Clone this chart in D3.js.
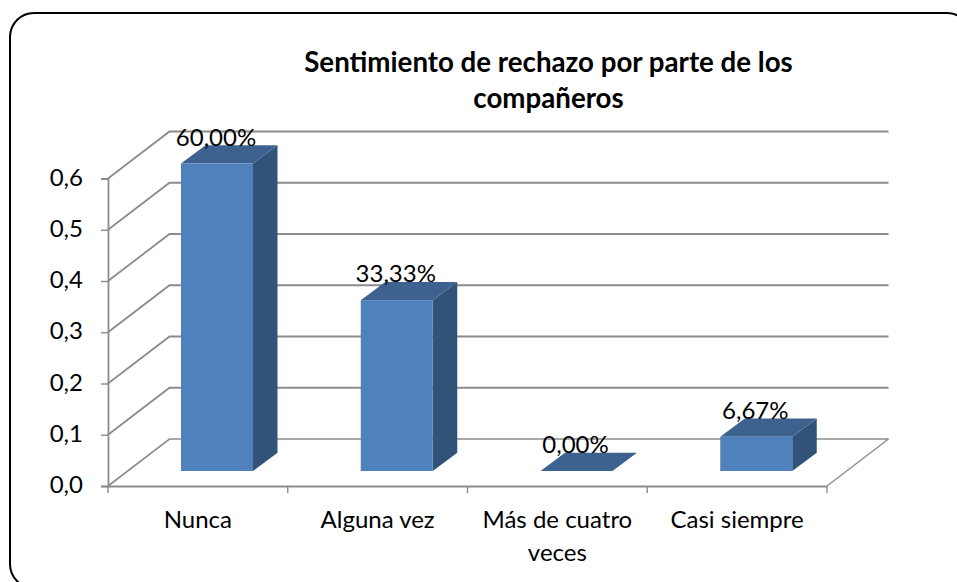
<!DOCTYPE html>
<html><head><meta charset="utf-8">
<script src="https://cdn.jsdelivr.net/npm/d3@7"></script>
<style>html,body{margin:0;padding:0;background:#fff;overflow:hidden}svg{display:block}text{font-family:Lato,"Open Sans",sans-serif;fill:#000}</style>
</head><body><svg id="c" width="957" height="582"></svg>
<script>
const categories = ["Nunca","Alguna vez","Más de cuatro veces","Casi siempre"];
const categoryLines = [["Nunca"],["Alguna vez"],["Más de cuatro","veces"],["Casi siempre"]];
const values = [0.6,0.3333,0,0.0667];
const valueLabels = ["60,00%","33,33%","0,00%","6,67%"];
const yTicks = [0,0.1,0.2,0.3,0.4,0.5,0.6];
const titleLines = ["Sentimiento de rechazo por parte de los","compañeros"];

const svg = d3.select("#c");
const x = d3.scaleBand().domain(categories).range([108,827]);
const y = d3.scaleLinear().domain([0,0.6]).range([486,178.5]);
const wallDx=61.5, wallDy=-47, front={dx:0,dy:-15}, depth={dx:24.5,dy:-18.3};
const barW=72, barOff=73;
const grid="#8c8c8c";

svg.append("rect").attr("x",10).attr("y",13).attr("width",961).attr("height",575).attr("rx",24).attr("fill","#fff").attr("stroke","#000").attr("stroke-width",2);

const g=svg.append("g");
yTicks.forEach(t=>{
  const yy=y(t);
  g.append("path").attr("d",`M${x.range()[0]},${yy}L${x.range()[0]+wallDx},${yy+wallDy}H${x.range()[1]+wallDx}`).attr("fill","none").attr("stroke",grid).attr("stroke-width",t===0?1.6:1.8);
});
g.append("path").attr("d",`M827,${y(0)}L${827+wallDx},${y(0)+wallDy}`).attr("fill","none").attr("stroke",grid).attr("stroke-width",1.4);

const axL=d3.axisLeft(y).tickValues(yTicks).tickSize(7).tickFormat(d=>d3.format(".1f")(d).replace(".",","));
const gL=svg.append("g").attr("transform","translate(108,0)").call(axL);
const axB=d3.axisBottom(x).tickValues([]).tickSize(0);
const gB=svg.append("g").attr("transform",`translate(0,${y(0)})`).call(axB);
[...categories.map(c=>x(c)),827].forEach(v=>gB.append("line").attr("x1",v).attr("x2",v).attr("y1",0).attr("y2",7).attr("stroke",grid).attr("stroke-width",1.4));
[gL,gB].forEach(a=>{a.selectAll(".domain").attr("stroke",grid).attr("stroke-width",1.8);});
gL.selectAll(".tick line").attr("stroke",grid).attr("stroke-width",1.4);
gL.selectAll(".tick text").attr("font-size",24).attr("x",-25).attr("y",-1).attr("fill","#000").style("font-family","Lato");

const bars=svg.append("g").selectAll("g").data(categories).join("g");
const fy0=y(0)+front.dy;
const h=d=>y(0)-y(d);
bars.each(function(c,i){
  const s=d3.select(this), x0=x(c)+barOff, v=values[i], top=fy0-h(v);
  if(v>0) s.append("path").attr("d",`M${x0+barW},${top}l${depth.dx},${depth.dy}V${fy0+depth.dy}L${x0+barW},${fy0}Z`).attr("fill","#325379");
  s.append("path").attr("d",`M${x0},${top}l${depth.dx},${depth.dy}h${barW}l${-depth.dx},${-depth.dy}Z`).attr("fill","#3e6290");
  if(v>0) s.append("rect").attr("x",x0).attr("y",top).attr("width",barW).attr("height",fy0-top).attr("fill","#4f81bd");
  s.append("text").attr("x",x0+barW/2-1).attr("y",top-18).attr("text-anchor","middle").attr("font-size",24).text(valueLabels[i]);
});

categories.forEach((c,i)=>{
  categoryLines[i].forEach((l,j)=>{
    svg.append("text").attr("x",x(c)+x.bandwidth()/2).attr("y",528+j*33).attr("text-anchor","middle").attr("font-size",24).text(l);
  });
});
titleLines.forEach((l,j)=>{
  svg.append("text").attr("x",548.5).attr("y",72+j*36).attr("text-anchor","middle").attr("font-size",27.7).attr("font-weight",700).text(l);
});
</script></body></html>
